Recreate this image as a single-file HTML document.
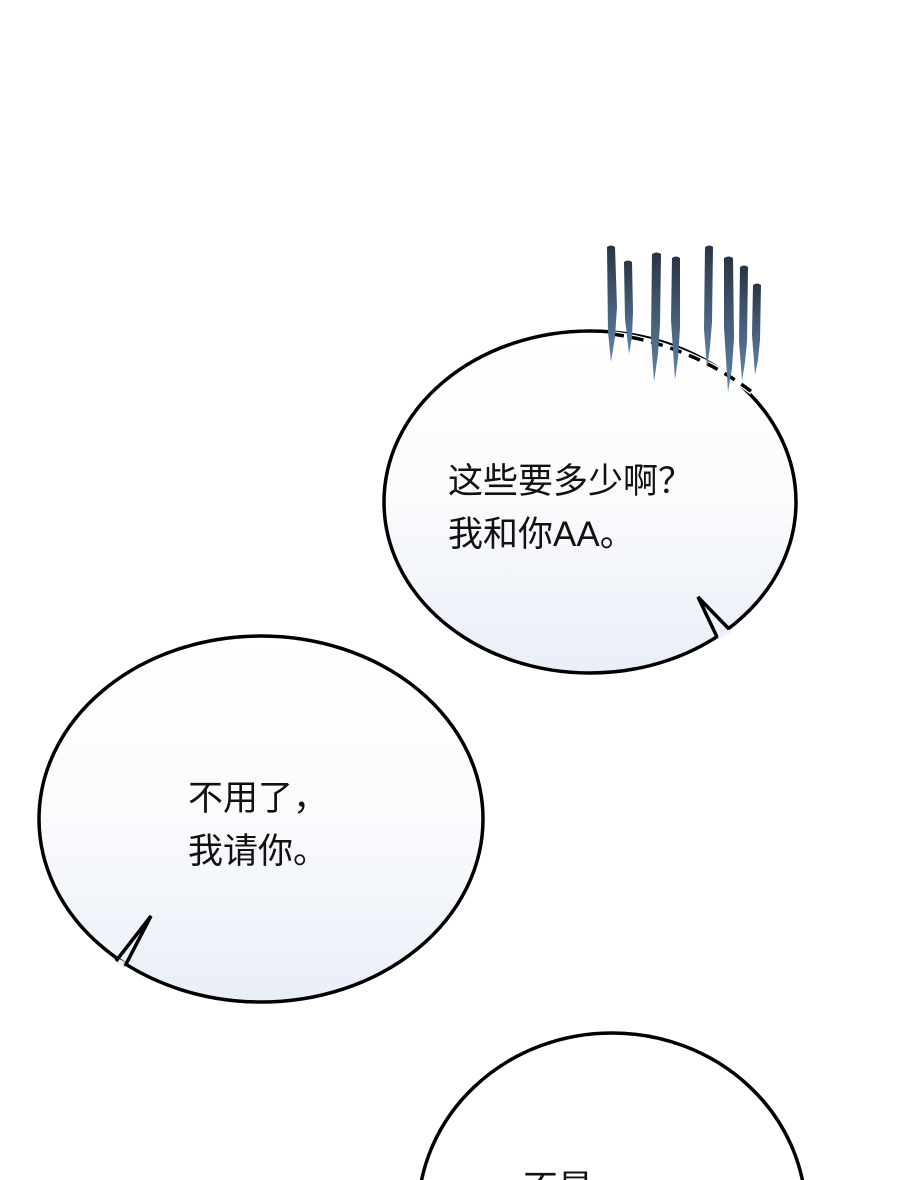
<!DOCTYPE html>
<html><head><meta charset="utf-8"><style>
html,body{margin:0;padding:0;background:#fff;overflow:hidden;width:900px;height:1180px}
svg{display:block}
text{font-family:"Liberation Sans","Noto Sans CJK SC",sans-serif;fill:#111;}
</style></head><body>
<svg width="900" height="1180" viewBox="0 0 900 1180">
<defs>
<linearGradient id="g" x1="0" y1="0" x2="0" y2="1">
<stop offset="0" stop-color="#ffffff"/><stop offset="0.5" stop-color="#fafbfd"/><stop offset="1" stop-color="#e9eef7"/>
</linearGradient>
<linearGradient id="s" x1="0" y1="0" x2="0" y2="1">
<stop offset="0" stop-color="#2a3543"/><stop offset="1" stop-color="#6084ad"/>
</linearGradient>
</defs>
<!-- bubble 1 -->
<ellipse cx="590" cy="502" rx="206" ry="171" fill="url(#g)" stroke="#000" stroke-width="3.5"/>
<line x1="718" y1="637" x2="729" y2="630" stroke="#eef2f8" stroke-width="6"/>
<polyline points="717,637 698,597 729,629" fill="none" stroke="#000" stroke-width="3.5"/>
<path d="M612,334 Q690,345 752,392" fill="none" stroke="#fff" stroke-width="6"/>
<path d="M612,334 Q690,345 752,392" fill="none" stroke="#000" stroke-width="3.5" stroke-dasharray="12,8"/>
<!-- gloom lines -->
<g fill="url(#s)">
<path d="M607,247 q4,-3 8,0 l2,60 l-2,30 l-4,25 l-3,-30 z"/>
<path d="M624,262 q4,-3 8,0 l1,50 l-1,25 l-3,17 l-4,-35 z"/>
<path d="M652,254 q5,-3 9,0 l-1,70 l-2,30 l-4,28 l-3,-45 z"/>
<path d="M672,258 q4,-3 8,0 l0,70 l-2,30 l-3,22 l-4,-60 z"/>
<path d="M705,247 q5,-3 8,0 l-1,75 l-2,25 l-3,22 l-3,-40 z"/>
<path d="M724,258 q5,-3 9,0 l1,80 l-2,30 l-4,24 l-4,-65 z"/>
<path d="M740,267 q4,-3 8,0 l-1,75 l-2,20 l-3,19 l-3,-40 z"/>
<path d="M753,285 q4,-3 8,0 l-1,55 l-2,20 l-3,15 l-3,-40 z"/>
</g>
<text x="448" y="493" font-size="35">这些要多少啊？</text>
<text x="448" y="546" font-size="35">我和你AA。</text>
<!-- bubble 2 -->
<ellipse cx="261" cy="819" rx="222" ry="183" fill="url(#g)" stroke="#000" stroke-width="3.5"/>
<line x1="117" y1="961" x2="126" y2="966" stroke="#eef2f8" stroke-width="6"/>
<polyline points="116,961 151,916 125,966" fill="none" stroke="#000" stroke-width="3.5"/>
<text x="188" y="810" font-size="35">不用了，</text>
<text x="188" y="863" font-size="35">我请你。</text>
<!-- bubble 3 -->
<ellipse cx="612" cy="1215" rx="194" ry="182" fill="#fff" stroke="#000" stroke-width="3.5"/>
<text x="523" y="1200" font-size="35">不是</text>
</svg>
</body></html>
